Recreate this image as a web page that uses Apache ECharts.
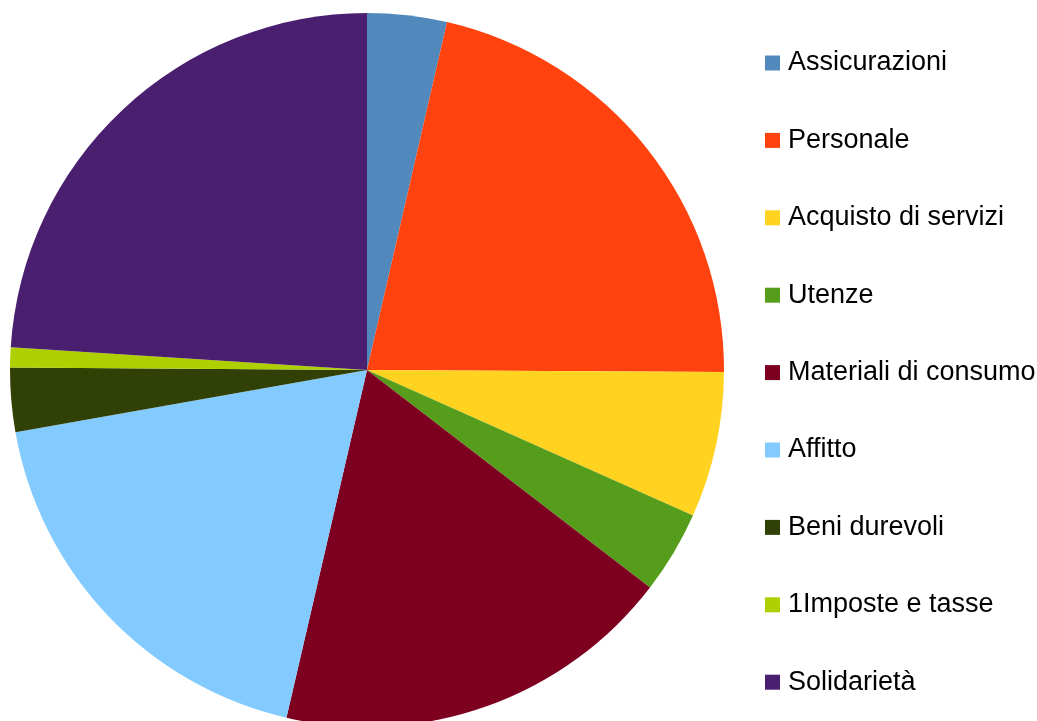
<!DOCTYPE html>
<html lang="it">

<head>
    <meta charset="utf-8">
    <title>Spese</title>
    <script src="https://cdn.jsdelivr.net/npm/echarts@6/dist/echarts.min.js"></script>
    <style>
        html, body { margin: 0; padding: 0; background: #fff; }
        #grafico { width: 1037px; height: 721px; }
    </style>
</head>

<body>
    <div id="grafico"></div>
    <script type="text/javascript">
        // voci di spesa (percentuali)
        var categorie = ['Assicurazioni', 'Personale', 'Acquisto di servizi', 'Utenze',
            'Materiali di consumo', 'Affitto', 'Beni durevoli', '1Imposte e tasse', 'Solidarietà'];
        var valori = [3.6, 21.5, 6.6, 3.75, 18.2, 18.6, 2.9, 0.9, 24.0];
        var colori = ['#5289bd', '#ff420e', '#ffd320', '#579d1c', '#7e0021',
            '#83caff', '#314004', '#aecf00', '#4b1f6f'];

        var myChart = echarts.init(document.getElementById('grafico'));
        var dati = [];
        for (var i = 0; i < categorie.length; i++) {
            dati.push({ name: categorie[i], value: valori[i] });
        }

        var option = {
            animation: false,
            color: colori,
            legend: {
                orient: 'vertical',
                left: 765,
                top: 48,
                padding: 0,
                icon: 'rect',
                itemWidth: 15,
                itemHeight: 15,
                itemGap: 47.4,
                textStyle: {
                    fontFamily: 'Liberation Sans, Arial, sans-serif',
                    fontSize: 27,
                    lineHeight: 30,
                    padding: [0, 0, 0, 3],
                    color: '#000'
                },
                data: categorie
            },
            series: [{
                type: 'pie',
                center: [367, 370],
                radius: 357,
                startAngle: 90,
                clockwise: true,
                avoidLabelOverlap: false,
                label: { show: false },
                labelLine: { show: false },
                emphasis: { disabled: true },
                itemStyle: { borderWidth: 0 },
                data: dati
            }]
        };
        myChart.setOption(option);
    </script>
</body>

</html>
